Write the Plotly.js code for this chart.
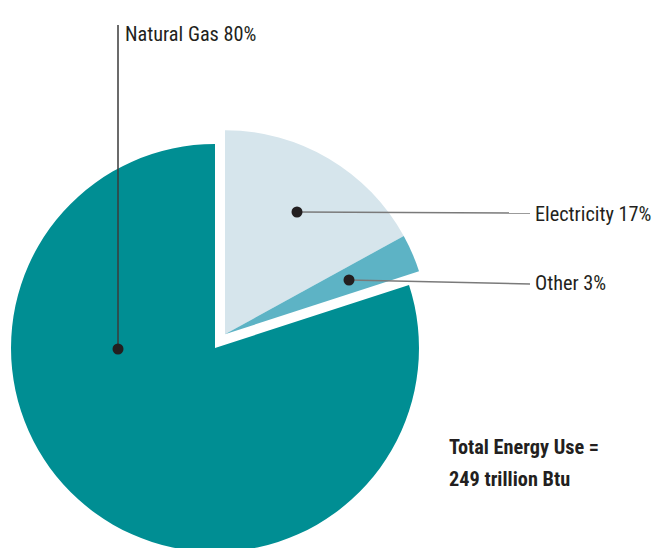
<!DOCTYPE html>
<html>
<head>
<meta charset="utf-8">
<script src="https://cdn.plot.ly/plotly-3.0.1.min.js"></script>
<style>
html,body{margin:0;padding:0;overflow:hidden;background:#fff;}
#chart{width:656px;height:560px;}
</style>
</head>
<body>
<div id="chart"></div>
<script>
// ---- data ----
var categories = ["Electricity", "Other", "Natural Gas"];
var shares = [17, 3, 80];
var labelText = ["Electricity 17%", "Other 3%", "Natural Gas 80%"];
var totalLines = ["Total Energy Use =", "249 trillion Btu"];

// ---- styling / geometry ----
var W = 656, H = 560;
var colors = ["#d6e5ec", "#5db3c5", "#008e93"];
var FONT = "'Liberation Sans Narrow', 'Arial Narrow', 'Roboto Condensed', Roboto, sans-serif";
var FS = 20.3;
var center = {x: 215, y: 348};   // pixel centre of pie (from top-left)
var R = 204;                     // pie radius, px
var pullDist = 17;               // px the first two slices are pulled out as a group

// group pull direction: bisector of the first two slices (clockwise from 12 o'clock)
var total = shares.reduce(function(a,b){return a+b;},0);
var groupAngle = (shares[0] + shares[1]) / total * 360 / 2 * Math.PI/180;
var center2 = {x: center.x + pullDist*Math.sin(groupAngle), y: center.y - pullDist*Math.cos(groupAngle)};

function domainFor(c){
  return {x: [(c.x - R)/W, (c.x + R)/W], y: [(H - c.y - R)/H, (H - c.y + R)/H]};
}

var pieBase = {
  type: "pie", labels: categories, values: shares, sort: false,
  direction: "clockwise", rotation: 0, textinfo: "none", hoverinfo: "label+percent",
  showlegend: false
};
var pieGas = Object.assign({}, pieBase, {
  domain: domainFor(center),
  marker: {colors: ["rgba(0,0,0,0)", "rgba(0,0,0,0)", colors[2]], line: {width: 0}}
});
var piePulled = Object.assign({}, pieBase, {
  domain: domainFor(center2),
  marker: {colors: [colors[0], colors[1], "rgba(0,0,0,0)"], line: {width: 0}}
});

// leader dots (pixel positions) and label anchors
var dots = [{x: 297, y: 212}, {x: 349, y: 280}, {x: 118, y: 349}];
var labelPos = [{x: 533, y: 214}, {x: 533, y: 283}, {x: 123, y: 34}];
var lineEnds = [{x: 530, y: 213}, {x: 530, y: 284}, {x: 118, y: 25}];
var DOT_R = 5.5;

var shapes = [];
dots.forEach(function(d, i){
  shapes.push({type: "line", xref: "x", yref: "y", x0: d.x, y0: d.y, x1: lineEnds[i].x, y1: lineEnds[i].y,
          line: {color: i === 2 ? "#3a3a3a" : "#7a7a7a", width: 1.5}, layer: "above"});
});
dots.forEach(function(d){
  shapes.push({type: "circle", xref: "x", yref: "y", x0: d.x - DOT_R, x1: d.x + DOT_R, y0: d.y - DOT_R, y1: d.y + DOT_R,
          fillcolor: "#231f20", line: {width: 0}, layer: "above"});
});

var annotations = labelText.map(function(t, i){
  return {text: t, x: labelPos[i].x, y: labelPos[i].y, xref: "x", yref: "y",
          xanchor: "left", yanchor: "middle", showarrow: false,
          font: {family: FONT, size: FS, color: "#231f20"}};
});
annotations.push({text: "<b>" + totalLines[0] + "</b>", x: 447, y: 447, xref: "x", yref: "y",
  xanchor: "left", yanchor: "middle", showarrow: false, font: {family: FONT, size: FS, color: "#231f20"}});
annotations.push({text: "<b>" + totalLines[1] + "</b>", x: 447, y: 479, xref: "x", yref: "y",
  xanchor: "left", yanchor: "middle", showarrow: false, font: {family: FONT, size: FS, color: "#231f20"}});

var layout = {
  width: W, height: H, margin: {l: 0, r: 0, t: 0, b: 0},
  paper_bgcolor: "#fff", plot_bgcolor: "rgba(0,0,0,0)", showlegend: false,
  xaxis: {range: [0, W], visible: false, fixedrange: true},
  yaxis: {range: [H, 0], visible: false, fixedrange: true},
  shapes: shapes, annotations: annotations
};

Plotly.newPlot("chart", [pieGas, piePulled], layout, {displayModeBar: false, staticPlot: true});
</script>
</body>
</html>
